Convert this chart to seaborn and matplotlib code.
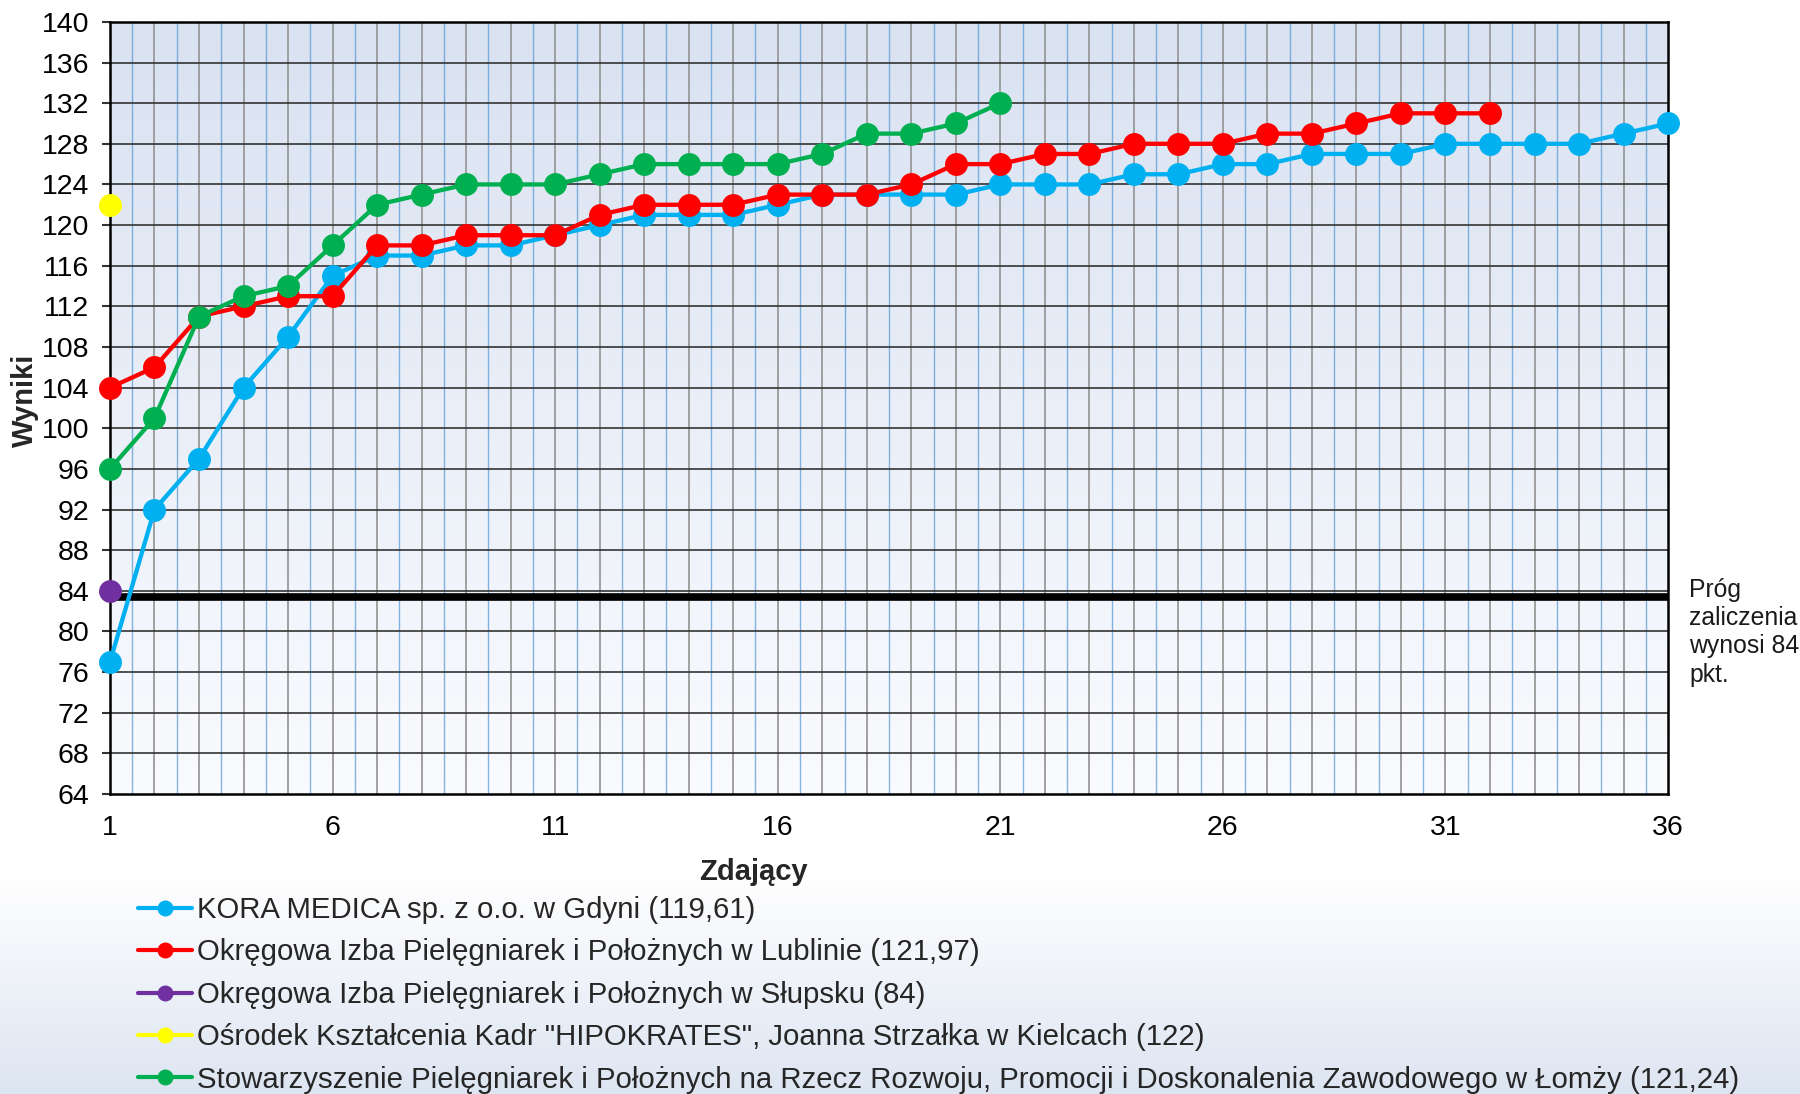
import numpy as np
import pandas as pd
import matplotlib
matplotlib.use("Agg")
import matplotlib.pyplot as plt
import seaborn as sns
from matplotlib.lines import Line2D
from matplotlib.colors import LinearSegmentedColormap

# --- data ---
kora = [77, 92, 97, 104, 109, 115, 117, 117, 118, 118, 119, 120,
        121, 121, 121, 122, 123, 123, 123, 123, 124, 124, 124, 125,
        125, 126, 126, 127, 127, 127, 128, 128, 128, 128, 129, 130]
lublin = [104, 106, 111, 112, 113, 113, 118, 118, 119, 119, 119, 121,
          122, 122, 122, 123, 123, 123, 124, 126, 126, 127, 127, 128,
          128, 128, 129, 129, 130, 131, 131, 131]
slupsk = [84]
kielce = [122]
lomza = [96, 101, 111, 113, 114, 118, 122, 123, 124, 124, 124, 125,
         126, 126, 126, 126, 127, 129, 129, 130, 132]

labels = [
    "KORA MEDICA sp. z o.o. w Gdyni (119,61)",
    "Okręgowa Izba Pielęgniarek i Położnych w Lublinie (121,97)",
    "Okręgowa Izba Pielęgniarek i Położnych w Słupsku (84)",
    "Ośrodek Kształcenia Kadr \"HIPOKRATES\", Joanna Strzałka w Kielcach (122)",
    "Stowarzyszenie Pielęgniarek i Położnych na Rzecz Rozwoju, Promocji i Doskonalenia Zawodowego w Łomży (121,24)",
]
colors = ["#00b0f0", "#ff0000", "#7030a0", "#ffff00", "#00b050"]
threshold = 83.4
y_ticks = list(range(64, 141, 4))
x_ticks = [1, 6, 11, 16, 21, 26, 31, 36]

rows = []
for lab, vals in zip(labels, [kora, lublin, slupsk, kielce, lomza]):
    for i, v in enumerate(vals):
        rows.append({"zdajacy": i + 1, "wynik": v, "osrodek": lab})
df = pd.DataFrame(rows)

sns.set_theme(style="white")
plt.rcParams["font.family"] = ["Liberation Sans", "DejaVu Sans"]

fig = plt.figure(figsize=(18, 10.94), dpi=100)

# bottom background gradient of the slide
bg = fig.add_axes([0, 0, 1, 1], zorder=-10)
grad = np.linspace(0, 1, 256).reshape(-1, 1)
bg_cmap = LinearSegmentedColormap.from_list("bg", [(0, "#dde5f2"), (0.2, "#ffffff"), (1, "#ffffff")])
bg.imshow(grad, cmap=bg_cmap, aspect="auto", extent=[0, 1, 0, 1], origin="lower")
bg.set_axis_off()

ax = fig.add_axes([0.0611, 0.2742, 0.8656, 0.7058])
ax.set_facecolor("none")

# plot area gradient
pa_cmap = LinearSegmentedColormap.from_list("pa", ["#fafbfe", "#d9e2f1"])
ax.imshow(grad, cmap=pa_cmap, aspect="auto", extent=[0, 1, 0, 1], origin="lower",
          transform=ax.transAxes, zorder=0)

ax.set_xlim(1, 36)
ax.set_ylim(64, 140)

# grid: blue half lines, gray integer lines, dark horizontal lines
for xh in np.arange(1.5, 36, 1.0):
    ax.axvline(xh, color="#5b9bd5", lw=1.0, alpha=0.75, zorder=1)
for xi in range(2, 36):
    ax.axvline(xi, color="#999999", lw=1.3, zorder=1.2)
for yt in y_ticks[1:-1]:
    ax.axhline(yt, color="#333333", lw=1.2, zorder=1.3)

ax.axhline(threshold, color="black", lw=5.5, zorder=2.5)

sns.lineplot(data=df, x="zdajacy", y="wynik", hue="osrodek", hue_order=labels,
             palette=colors, marker="o", markersize=16.5, markeredgewidth=0,
             linewidth=3.1, legend=False, ax=ax, zorder=3, clip_on=False)

ax.set_xticks(x_ticks)
ax.set_yticks(y_ticks)
ax.tick_params(axis="y", labelsize=20.5, length=6, width=1.5, color="#333333",
               pad=9, left=True, labelcolor="black")
ax.tick_params(axis="x", labelsize=20.5, length=0, pad=15, labelcolor="black")
ax.set_xlabel("")
ax.set_ylabel("")
for sp in ax.spines.values():
    sp.set_visible(True)
    sp.set_color("black")
    sp.set_linewidth(1.8)
    sp.set_zorder(2.8)

fig.text(753 / 1800, 1 - 872 / 1094, "Zdający", fontsize=21, fontweight="bold",
         ha="center", va="center")
fig.text(25 / 1800, 1 - 400 / 1094, "Wyniki", fontsize=21, fontweight="bold",
         ha="center", va="center", rotation=90)
fig.text(1689 / 1800, 1 - 578 / 1094, "Próg\nzaliczenia\nwynosi 84\npkt.",
         fontsize=17.8, ha="left", va="top", color="#1a1a1a", linespacing=1.22)

handles = [Line2D([0], [0], color=c, lw=3, marker="o", markersize=11.5,
                  markeredgewidth=0) for c in colors]
fig.legend(handles, labels, loc="upper left", bbox_to_anchor=(138 / 1800, 1 - 896 / 1094),
           frameon=False, fontsize=21.2, handlelength=1.83, handletextpad=0.17,
           labelspacing=0.49, borderpad=0, borderaxespad=0)

fig.savefig("out.png", dpi=100)
